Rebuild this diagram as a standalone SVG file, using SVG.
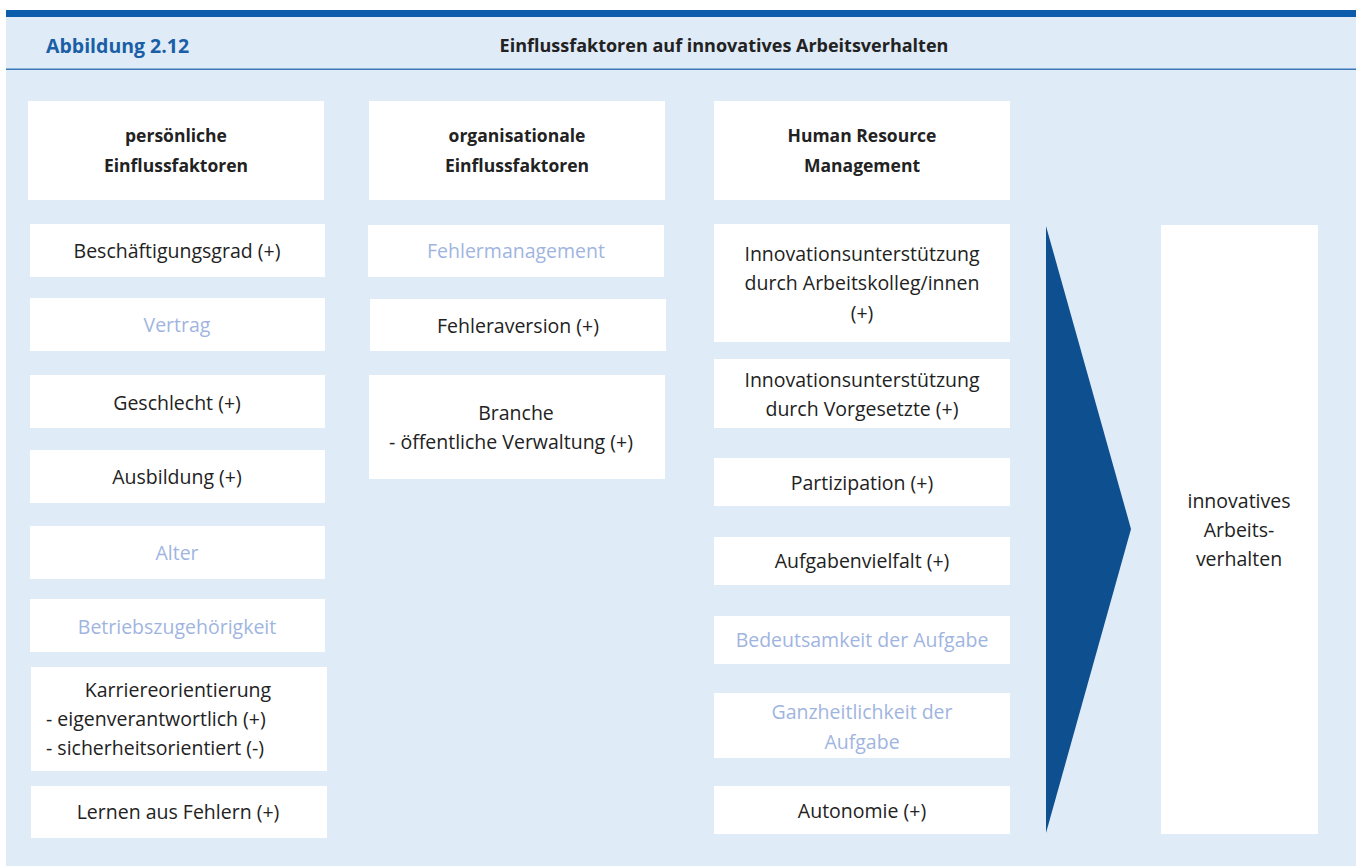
<svg xmlns="http://www.w3.org/2000/svg" width="1356" height="866" viewBox="0 0 1356 866">
<style>
.box{fill:#ffffff}
.t{font-family:"Open Sans","Liberation Sans",sans-serif;font-size:19.5px;fill:#222222;text-anchor:middle}
.s{text-anchor:start}
.g{fill:#9fb5df}
.b{font-weight:bold;font-size:17.5px}
.hd{font-family:"Open Sans","Liberation Sans",sans-serif;font-weight:bold}
</style>
<rect x="0" y="0" width="1356" height="866" fill="#ffffff"/>
<rect x="6" y="17" width="1350" height="849" fill="#dfebf7"/>
<rect x="6" y="10" width="1350" height="7" fill="#0b5cab"/>
<rect x="6" y="68.5" width="1350" height="1.5" fill="#3a78b9"/>
<text class="hd" x="46" y="53" fill="#1a5fa6" font-size="19.5">Abbildung 2.12</text>
<text class="hd" x="724" y="52" fill="#222222" font-size="18" text-anchor="middle">Einflussfaktoren auf innovatives Arbeitsverhalten</text>

<g id="col1">
<g id="h1"><rect class="box" x="28" y="101" width="296" height="99"/><text class="t b" x="176" y="142">persönliche</text><text class="t b" x="176" y="172">Einflussfaktoren</text></g>
<g id="n1"><rect class="box" x="30" y="224" width="295" height="53"/><text class="t" x="177" y="258">Beschäftigungsgrad (+)</text></g>
<g id="n2"><rect class="box" x="30" y="298" width="295" height="53"/><text class="t g" x="177" y="332">Vertrag</text></g>
<g id="n3"><rect class="box" x="30" y="375" width="295" height="53"/><text class="t" x="177" y="410">Geschlecht (+)</text></g>
<g id="n4"><rect class="box" x="30" y="450" width="295" height="53"/><text class="t" x="177" y="484">Ausbildung (+)</text></g>
<g id="n5"><rect class="box" x="30" y="526" width="295" height="53"/><text class="t g" x="177" y="560">Alter</text></g>
<g id="n6"><rect class="box" x="30" y="599" width="295" height="53"/><text class="t g" x="177" y="634">Betriebszugehörigkeit</text></g>
<g id="n7"><rect class="box" x="31" y="667" width="296" height="104"/><text class="t" x="178" y="697">Karriereorientierung</text><text class="t s" x="46" y="726">- eigenverantwortlich (+)</text><text class="t s" x="46" y="755">- sicherheitsorientiert (-)</text></g>
<g id="n8"><rect class="box" x="31" y="786" width="296" height="52"/><text class="t" x="178" y="819">Lernen aus Fehlern (+)</text></g>
</g>

<g id="col2">
<g id="h2"><rect class="box" x="369" y="101" width="296" height="99"/><text class="t b" x="517" y="142">organisationale</text><text class="t b" x="517" y="172">Einflussfaktoren</text></g>
<g id="m1"><rect class="box" x="368" y="225" width="296" height="52"/><text class="t g" x="516" y="258">Fehlermanagement</text></g>
<g id="m2"><rect class="box" x="370" y="299" width="296" height="52"/><text class="t" x="518" y="333">Fehleraversion (+)</text></g>
<g id="m3"><rect class="box" x="369" y="375" width="296" height="104"/><text class="t" x="516" y="420">Branche</text><text class="t" x="511" y="449">- öffentliche Verwaltung (+)</text></g>
</g>

<g id="col3">
<g id="h3"><rect class="box" x="714" y="101" width="296" height="99"/><text class="t b" x="862" y="142">Human Resource</text><text class="t b" x="862" y="172">Management</text></g>
<g id="k1"><rect class="box" x="714" y="224" width="296" height="118"/><text class="t" x="862" y="261">Innovationsunterstützung</text><text class="t" x="862" y="290">durch Arbeitskolleg/innen</text><text class="t" x="862" y="320">(+)</text></g>
<g id="k2"><rect class="box" x="714" y="359" width="296" height="69"/><text class="t" x="862" y="387">Innovationsunterstützung</text><text class="t" x="862" y="416">durch Vorgesetzte (+)</text></g>
<g id="k3"><rect class="box" x="714" y="458" width="296" height="48"/><text class="t" x="862" y="490">Partizipation (+)</text></g>
<g id="k4"><rect class="box" x="714" y="537" width="296" height="48"/><text class="t" x="862" y="568">Aufgabenvielfalt (+)</text></g>
<g id="k5"><rect class="box" x="714" y="616" width="296" height="48"/><text class="t g" x="862" y="647">Bedeutsamkeit der Aufgabe</text></g>
<g id="k6"><rect class="box" x="714" y="693" width="296" height="65"/><text class="t g" x="862" y="719">Ganzheitlichkeit der</text><text class="t g" x="862" y="749">Aufgabe</text></g>
<g id="k7"><rect class="box" x="714" y="786" width="296" height="48"/><text class="t" x="862" y="818">Autonomie (+)</text></g>
</g>

<g id="connectors">
<polygon points="1046,226 1131,529 1046,833" fill="#0d4f8f"/>
</g>

<g id="result"><rect class="box" x="1161" y="225" width="157" height="609"/><text class="t" x="1239" y="508">innovatives</text><text class="t" x="1239" y="537">Arbeits-</text><text class="t" x="1239" y="566">verhalten</text></g>
</svg>
